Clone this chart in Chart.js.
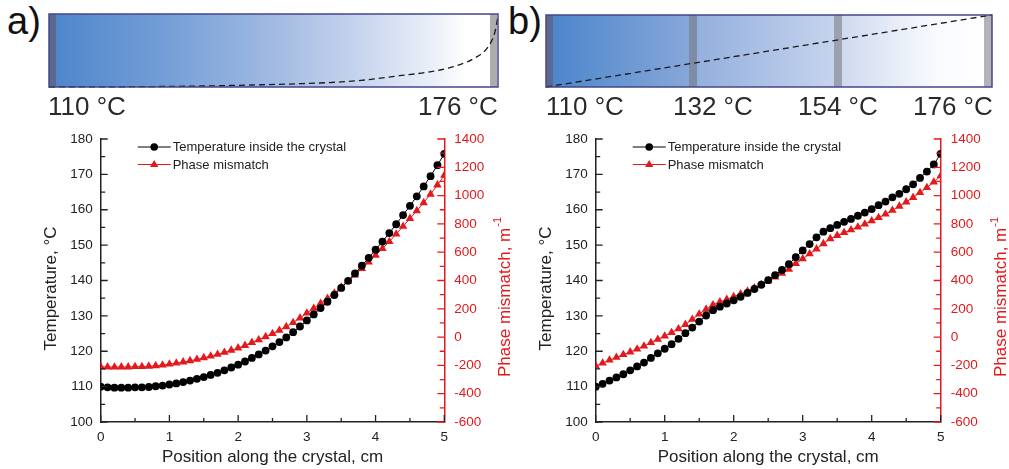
<!DOCTYPE html>
<html>
<head>
<meta charset="utf-8">
<script src="https://cdn.jsdelivr.net/npm/chart.js@4.4.0/dist/chart.umd.min.js"></script>
<style>
  html, body { margin: 0; padding: 0; background: #fff; }
  #page { position: relative; width: 1009px; height: 469px; overflow: hidden;
          font-family: 'Liberation Sans', Arial, sans-serif; color: #222; }
  canvas { position: absolute; }
  .tag { position: absolute; font-size: 38px; line-height: 1; color: #111; }
  .temp { position: absolute; top: 93px; font-size: 26px; line-height: 1; color: #2a2a2a; white-space: nowrap; }
</style>
</head>
<body>
<div id="page">
  <div class="tag" style="left:7px; top:2px">a)</div>
  <div class="tag" style="left:508px; top:2px">b)</div>
  <canvas id="barA" width="455" height="79" style="left:46px; top:11px"></canvas>
  <canvas id="barB" width="452" height="78" style="left:543px; top:12px"></canvas>
  <canvas id="chartA" width="530" height="349" style="left:0; top:120px"></canvas>
  <canvas id="chartB" width="509" height="349" style="left:500px; top:120px"></canvas>
</div>
<script>
// position along the crystal, cm
const positions = [
  0, 0.1, 0.2, 0.3, 0.4, 0.5, 0.6, 0.7, 0.8, 0.9,
  1, 1.1, 1.2, 1.3, 1.4, 1.5, 1.6, 1.7, 1.8, 1.9,
  2, 2.1, 2.2, 2.3, 2.4, 2.5, 2.6, 2.7, 2.8, 2.9,
  3, 3.1, 3.2, 3.3, 3.4, 3.5, 3.6, 3.7, 3.8, 3.9,
  4, 4.1, 4.2, 4.3, 4.4, 4.5, 4.6, 4.7, 4.8, 4.9,
  5
];

// a) one heater, temperature in °C and phase mismatch in m^-1
const tempA = [
  110.0, 109.8, 109.7, 109.7, 109.7, 109.8, 109.8, 109.9, 110.1, 110.3,
  110.6, 110.9, 111.3, 111.7, 112.2, 112.7, 113.3, 113.9, 114.6, 115.4,
  116.2, 117.1, 118.1, 119.1, 120.2, 121.4, 122.6, 123.9, 125.4, 127.0,
  128.7, 130.4, 132.2, 134.0, 135.9, 137.9, 139.9, 142.0, 144.2, 146.4,
  148.7, 151.0, 153.4, 155.9, 158.5, 161.1, 163.8, 166.6, 169.5, 172.6,
  175.8
];
const phaseA = [
  -210, -211, -212, -211, -211, -209, -209, -206, -202, -198,
  -191, -184, -176, -167, -157, -146, -134, -122, -108, -93,
  -77, -59, -38, -19, 3, 25, 48, 73, 103, 135,
  170, 203, 238, 273, 311, 353, 394, 438, 484, 530,
  578, 625, 675, 728, 783, 838, 893, 950, 1010, 1075,
  1143
];

// b) three heaters
const tempB = [
  110.0, 110.8, 111.7, 112.6, 113.5, 114.6, 115.7, 116.8, 118.1, 119.4,
  120.7, 122.0, 123.5, 125.1, 126.7, 128.4, 130.1, 131.6, 132.6, 133.5,
  134.4, 135.4, 136.5, 137.6, 138.8, 140.1, 141.5, 143.0, 144.6, 146.6,
  148.5, 150.3, 152.2, 153.8, 154.8, 155.7, 156.6, 157.4, 158.3, 159.2,
  160.2, 161.3, 162.3, 163.5, 164.5, 165.8, 167.2, 169.0, 170.8, 172.8,
  175.8
];
const phaseB = [
  -205, -184, -163, -143, -124, -105, -85, -64, -39, -16,
  7, 32, 58, 89, 125, 163, 197, 228, 249, 267,
  286, 305, 325, 347, 371, 397, 424, 451, 479, 520,
  553, 588, 623, 660, 695, 718, 738, 758, 777, 799,
  822, 845, 869, 896, 925, 955, 987, 1021, 1057, 1095,
  1140
];

// dashed profiles drawn over the crystal bars (cm, °C)
const barAPos = [0, 1.0, 1.7, 2.25, 2.8, 3.25, 3.55, 3.9, 4.2, 4.475, 4.73, 4.89, 4.965, 5.0];
const barATemp = [110, 110.3, 110.9, 111.8, 113, 114.6, 116.6, 120.2, 123.2, 127.8, 135.7, 146.3, 159.5, 174];
const barBPos = [0, 5];
const barBTemp = [110, 176];

const barALabels = ['110 °C', '176 °C'];
const barBLabels = ['110 °C', '132 °C', '154 °C', '176 °C'];

const xTicks = [0, 1, 2, 3, 4, 5];
const tempTicks = [100, 110, 120, 130, 140, 150, 160, 170, 180];
const phaseTicks = [-600, -400, -200, 0, 200, 400, 600, 800, 1000, 1200, 1400];

const FAMILY = "'Liberation Sans', Arial, sans-serif";
const INK = '#222222';
const RED = '#e3191c';

// temperature labels under the bars
const page = document.getElementById('page');
function addLabels(labels, lefts) {
  labels.forEach((text, i) => {
    const el = document.createElement('div');
    el.className = 'temp';
    el.style.left = lefts[i] + 'px';
    el.textContent = text;
    page.appendChild(el);
  });
}
addLabels(barALabels, [48, 418]);
addLabels(barBLabels, [546, 673, 798, 913]);

const barPaint = {
  id: 'barPaint',
  beforeDatasetsDraw(chart, args, opts) {
    const { ctx, chartArea: { left, top, width, height } } = chart;
    const g = ctx.createLinearGradient(left, 0, left + width, 0);
    opts.stops.forEach(([o, c]) => g.addColorStop(o, c));
    ctx.save();
    ctx.fillStyle = g;
    ctx.fillRect(left, top, width, height);
    opts.bands.forEach(([start, w, c]) => {
      ctx.fillStyle = c;
      ctx.fillRect(left + start, top, w, height);
    });
    ctx.restore();
  },
  afterDatasetsDraw(chart) {
    const { ctx, chartArea: { left, top, width, height } } = chart;
    ctx.save();
    ctx.strokeStyle = '#46468a';
    ctx.lineWidth = 1.5;
    ctx.strokeRect(left, top, width, height);
    ctx.restore();
  }
};

function makeBar(id, pos, temps, stops, bands) {
  new Chart(document.getElementById(id), {
    type: 'line',
    data: {
      datasets: [{
        data: pos.map((p, i) => ({ x: p, y: temps[i] })),
        borderColor: '#1a1a1a',
        borderWidth: 1.3,
        borderDash: [6, 4],
        pointRadius: 0,
        cubicInterpolationMode: 'monotone',
        clip: 4
      }]
    },
    options: {
      responsive: false,
      animation: false,
      devicePixelRatio: 1,
      layout: { padding: 3 },
      plugins: { legend: { display: false }, tooltip: { enabled: false }, barPaint: { stops, bands } },
      scales: {
        x: { type: 'linear', min: 0, max: 5, display: false },
        y: { min: 110, max: 176, display: false }
      }
    },
    plugins: [barPaint]
  });
}

makeBar('barA', barAPos, barATemp,
  [[0, '#4c86cb'], [0.25, '#729dd6'], [0.5, '#a1bae2'], [0.7, '#c8d6ee'], [0.85, '#e9eff8'], [0.93, '#ffffff'], [1, '#ffffff']],
  [[0, 7, '#5b6890'], [441, 7, '#adadad']]);
makeBar('barB', barBPos, barBTemp,
  [[0, '#4a85cb'], [0.32, '#86a7d9'], [0.34, '#94b0de'], [0.65, '#c6d4ed'], [0.67, '#d0dbf0'], [0.88, '#fafbfe'], [1, '#ffffff']],
  [[0, 7, '#5b6890'], [143, 8, '#7f8ca5'], [288, 8, '#9ca1b0'], [438, 8, '#b3b3b7']]);

function withMinors(majors) {
  const out = [];
  majors.forEach((v, i) => {
    out.push([v, true]);
    if (i < majors.length - 1) out.push([(v + majors[i + 1]) / 2, false]);
  });
  return out;
}

const frame = {
  id: 'frame',
  afterDraw(chart) {
    const { ctx, chartArea: a, scales: { x, y, y1 } } = chart;
    ctx.save();
    // inward ticks
    ctx.lineWidth = 1.3;
    ctx.strokeStyle = INK;
    ctx.beginPath();
    withMinors(xTicks).forEach(([v, major]) => {
      const px = x.getPixelForValue(v);
      ctx.moveTo(px, a.bottom);
      ctx.lineTo(px, a.bottom - (major ? 7 : 4));
    });
    withMinors(tempTicks).forEach(([v, major]) => {
      const py = y.getPixelForValue(v);
      ctx.moveTo(a.left, py);
      ctx.lineTo(a.left + (major ? 7 : 4.5), py);
    });
    ctx.stroke();
    ctx.strokeStyle = RED;
    ctx.beginPath();
    withMinors(phaseTicks).forEach(([v, major]) => {
      const py = y1.getPixelForValue(v);
      ctx.moveTo(a.right, py);
      ctx.lineTo(a.right - (major ? 7 : 4.5), py);
    });
    ctx.stroke();

    // axis titles reading upwards
    ctx.textBaseline = 'middle';
    ctx.font = `17px ${FAMILY}`;
    ctx.fillStyle = INK;
    ctx.save();
    ctx.translate(a.left - 49, (a.top + a.bottom) / 2 + 8);
    ctx.rotate(-Math.PI / 2);
    ctx.textAlign = 'center';
    ctx.fillText('Temperature, °C', 0, 0);
    ctx.restore();

    ctx.save();
    ctx.fillStyle = RED;
    ctx.translate(a.right + 61, a.bottom - 45);
    ctx.rotate(-Math.PI / 2);
    ctx.textAlign = 'left';
    const main = 'Phase mismatch, m';
    ctx.fillText(main, 0, 0);
    const w = ctx.measureText(main).width;
    ctx.font = `11px ${FAMILY}`;
    ctx.fillText('-1', w + 1, -7);
    ctx.restore();

    // legend
    ctx.font = `13px ${FAMILY}`;
    ctx.textAlign = 'left';
    chart.data.datasets.forEach((ds, i) => {
      const ly = a.top + 8 + i * 17.5;
      const cx = a.left + 53.5;
      ctx.strokeStyle = ds.borderColor;
      ctx.fillStyle = ds.borderColor;
      ctx.lineWidth = 1.2;
      ctx.beginPath();
      ctx.moveTo(a.left + 37, ly);
      ctx.lineTo(a.left + 70, ly);
      ctx.stroke();
      ctx.beginPath();
      if (ds.pointStyle === 'triangle') {
        ctx.moveTo(cx, ly - 4.5);
        ctx.lineTo(cx + 4.2, ly + 2.5);
        ctx.lineTo(cx - 4.2, ly + 2.5);
        ctx.closePath();
      } else {
        ctx.arc(cx, ly, 3.8, 0, Math.PI * 2);
      }
      ctx.fill();
      ctx.fillStyle = INK;
      ctx.fillText(ds.label, a.left + 72, ly + 0.5);
    });
    ctx.restore();
  }
};

function makeChart(id, temps, phases, leftW, rightW) {
  const tickFont = { family: FAMILY, size: 13.5 };
  return new Chart(document.getElementById(id), {
    type: 'line',
    data: {
      datasets: [
        {
          label: 'Temperature inside the crystal',
          data: positions.map((p, i) => ({ x: p, y: temps[i] })),
          yAxisID: 'y',
          borderColor: '#000000',
          backgroundColor: '#000000',
          borderWidth: 1,
          pointStyle: 'circle',
          pointRadius: 3.9,
          pointBorderWidth: 0,
          tension: 0
        },
        {
          label: 'Phase mismatch',
          data: positions.map((p, i) => ({ x: p, y: phases[i] })),
          yAxisID: 'y1',
          borderColor: RED,
          backgroundColor: RED,
          borderWidth: 1,
          pointStyle: 'triangle',
          pointRadius: 4.9,
          pointBorderWidth: 0,
          tension: 0
        }
      ]
    },
    options: {
      responsive: false,
      animation: false,
      devicePixelRatio: 1,
      layout: { padding: { top: 19, left: 0, right: 0, bottom: 0 } },
      plugins: { legend: { display: false }, tooltip: { enabled: false } },
      scales: {
        x: {
          type: 'linear', min: 0, max: 5,
          afterBuildTicks: s => { s.ticks = xTicks.map(v => ({ value: v })); },
          afterFit: s => { s.height = 47; },
          grid: { display: false, drawTicks: false },
          border: { display: true, color: INK, width: 1.5 },
          ticks: { color: INK, font: tickFont, padding: 7, maxRotation: 0, callback: v => String(v) },
          title: { display: true, text: 'Position along the crystal, cm', color: INK,
                   font: { family: FAMILY, size: 17 }, padding: { top: 0, bottom: 1 } }
        },
        y: {
          position: 'left', min: 100, max: 180,
          afterBuildTicks: s => { s.ticks = tempTicks.map(v => ({ value: v })); },
          afterFit: s => { s.width = leftW; },
          grid: { display: false, drawTicks: false },
          border: { display: true, color: INK, width: 1.5 },
          ticks: { color: INK, font: tickFont, padding: 8, callback: v => String(v) }
        },
        y1: {
          position: 'right', min: -600, max: 1400,
          afterBuildTicks: s => { s.ticks = phaseTicks.map(v => ({ value: v })); },
          afterFit: s => { s.width = rightW; },
          grid: { display: false, drawTicks: false },
          border: { display: true, color: RED, width: 1.5 },
          ticks: { color: RED, font: tickFont, padding: 10, callback: v => String(v) }
        }
      }
    },
    plugins: [frame]
  });
}

makeChart('chartA', tempA, phaseA, 100.7, 530 - 444.3);
makeChart('chartB', tempB, phaseB, 95.7, 509 - 440.7);
</script>
</body>
</html>
